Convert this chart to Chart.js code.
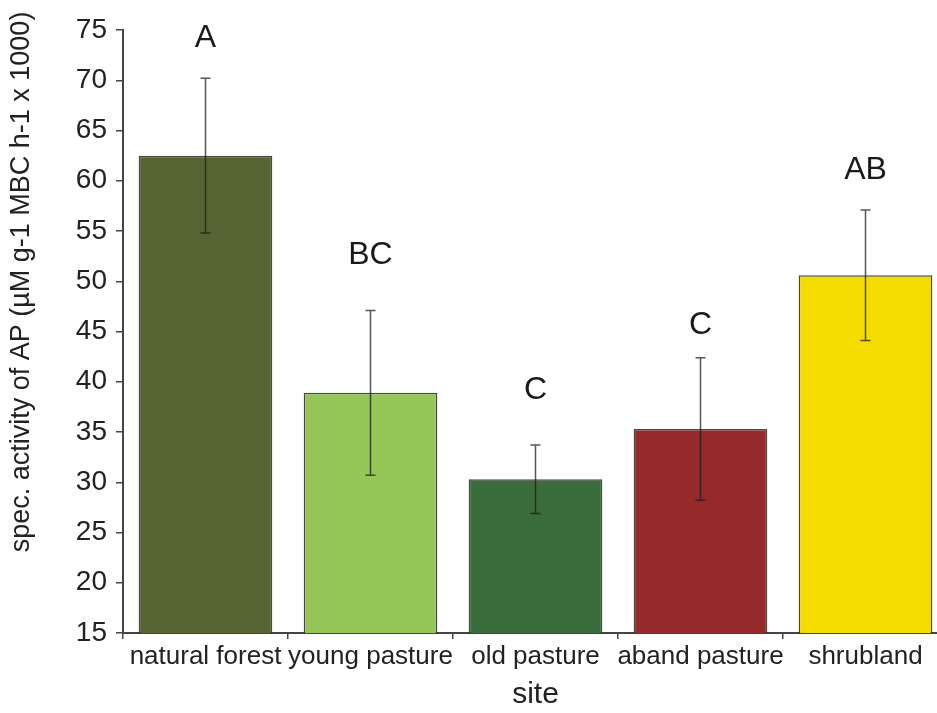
<!DOCTYPE html>
<html>
<head>
<meta charset="utf-8">
<script src="https://cdn.jsdelivr.net/npm/chart.js@4"></script>
<style>
  html, body { margin: 0; padding: 0; background: #fff; overflow: hidden; }
  #wrap { position: relative; width: 948px; height: 713px; }
</style>
</head>
<body>
<div id="wrap"><canvas id="chart"></canvas></div>
<script>
// dati
const sites = ["natural forest", "young pasture", "old pasture", "aband pasture", "shrubland"];
const means = [62.5, 38.9, 30.3, 35.3, 50.6];
const errors = [7.7, 8.2, 3.4, 7.1, 6.5];
const letters = ["A", "BC", "C", "C", "AB"];
const letterLevels = [74.2, 52.6, 39.2, 45.6, 61.1];
const yTicks = [15, 20, 25, 30, 35, 40, 45, 50, 55, 60, 65, 70, 75];

const barColors = ["#566434", "#95c657", "#3b6d3c", "#962a2a", "#f4dc00"];
const font = "'Liberation Sans', Arial, sans-serif";

// barre di errore + lettere sopra le barre
const extras = {
  id: "extras",
  afterDatasetsDraw(chart) {
    const ctx = chart.ctx;
    const x = chart.scales.x, y = chart.scales.y;
    ctx.save();
    ctx.strokeStyle = "rgba(30,30,30,0.75)";
    ctx.lineWidth = 1.5;
    means.forEach((m, i) => {
      const cx = x.getPixelForValue(i);
      const top = y.getPixelForValue(m + errors[i]);
      const bot = y.getPixelForValue(m - errors[i]);
      ctx.beginPath();
      ctx.moveTo(cx, top); ctx.lineTo(cx, bot);
      ctx.moveTo(cx - 5, top); ctx.lineTo(cx + 5, top);
      ctx.moveTo(cx - 5, bot); ctx.lineTo(cx + 5, bot);
      ctx.stroke();
    });
    ctx.fillStyle = "#1a1a1a";
    ctx.font = "32px " + font;
    ctx.textAlign = "center";
    ctx.textBaseline = "middle";
    letters.forEach((l, i) => {
      ctx.fillText(l, x.getPixelForValue(i), y.getPixelForValue(letterLevels[i]));
    });
    ctx.restore();
  },
  afterDraw(chart) {
    // titolo asse y, spostato verso l'alto come nell'originale
    const ctx = chart.ctx;
    ctx.save();
    ctx.translate(22, 282);
    ctx.rotate(-Math.PI / 2);
    ctx.fillStyle = "#222";
    ctx.font = "27px " + font;
    ctx.textAlign = "center";
    ctx.textBaseline = "middle";
    ctx.fillText("spec. activity of AP (\u00b5M g-1 MBC h-1 x 1000)", 0, 0);
    ctx.restore();
  }
};

new Chart(document.getElementById("chart"), {
  type: "bar",
  data: {
    labels: sites,
    datasets: [{
      data: means,
      backgroundColor: barColors,
      borderColor: "rgba(40,40,30,0.85)",
      borderWidth: 1.5,
      borderSkipped: false,
      barPercentage: 0.81,
      categoryPercentage: 1
    }]
  },
  options: {
    responsive: true,
    maintainAspectRatio: false,
    animation: false,
    layout: { padding: { top: 30, left: 0, right: 0, bottom: 0 } },
    plugins: { legend: { display: false }, tooltip: { enabled: false } },
    scales: {
      x: {
        grid: { drawOnChartArea: false, tickLength: 6, color: "#444", lineWidth: 1.5 },
        border: { display: true, color: "#444", width: 2 },
        ticks: { color: "#222", font: { family: font, size: 26 }, padding: 2, maxRotation: 0, autoSkip: false },
        title: { display: true, text: "site", color: "#222", font: { family: font, size: 30 }, padding: { top: 0, bottom: 0 } },
        afterFit(scale) { scale.height = 80; }
      },
      y: {
        min: 15,
        max: 75,
        afterBuildTicks(scale) { scale.ticks = yTicks.map(v => ({ value: v })); },
        grid: { drawOnChartArea: false, tickLength: 7, color: "#444", lineWidth: 1.5 },
        border: { display: true, color: "#444", width: 2 },
        ticks: { color: "#222", font: { family: font, size: 28 }, padding: 9 },
        afterFit(scale) { scale.width = 123; }
      }
    }
  },
  plugins: [extras]
});
</script>
</body>
</html>
